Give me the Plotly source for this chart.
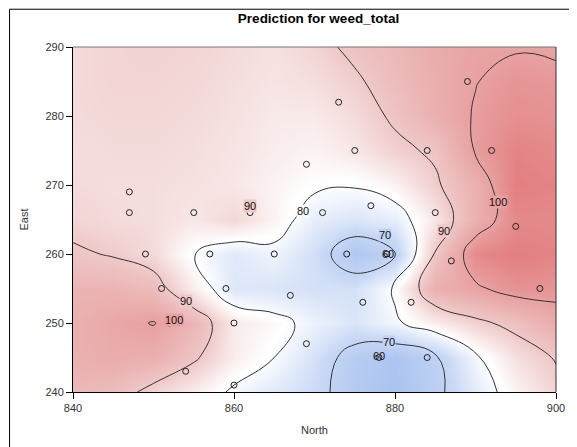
import plotly.graph_objects as go

# Grid of predicted weed_total values
north = [840, 845, 850, 855, 860, 865, 870, 875, 880, 885, 890, 895, 900]
east = [240, 245, 250, 255, 260, 265, 270, 275, 280, 285, 290]
z_240 = [94, 93, 88, 84, 79, 76, 72.5, 66, 63, 68, 76.5, 83, 88]
z_245 = [96, 97, 96, 91, 84, 80, 74, 67, 64, 69, 79, 86, 90.5]
z_250 = [96, 98, 100.3, 94.5, 84.5, 82, 78, 75, 79, 84, 88.5, 92, 97]
z_255 = [95, 95, 93, 84, 75.5, 75, 74, 74, 81, 96, 99, 102.5, 102]
z_260 = [91, 89.5, 87, 80.2, 76, 78.5, 73.5, 65, 69, 90.5, 104, 106, 105]
z_265 = [88, 87, 86.5, 85, 87.5, 83, 77, 75, 77, 85, 96, 104, 104]
z_270 = [87, 86.5, 86.5, 86, 85, 83, 81, 80.5, 83, 89, 96, 106, 105]
z_275 = [86.5, 87, 87, 86.5, 85.5, 84, 83, 85, 88.5, 91, 100.5, 105, 104]
z_280 = [87, 87.5, 87.5, 87, 86, 84.5, 84.5, 87, 91, 96, 100.5, 103, 102.5]
z_285 = [87, 88, 88, 87.5, 86.5, 85.5, 86.5, 89, 93, 96.5, 99.8, 102, 101.5]
z_290 = [87, 88, 88.5, 88, 87, 86, 88, 91.5, 94, 97, 99, 99.5, 99]
z_grid = [z_240, z_245, z_250, z_255, z_260, z_265, z_270, z_275, z_280, z_285, z_290]

# Observed sample locations
obs_north = [847, 847, 855, 862, 889, 873, 875, 884, 892, 869, 871, 877, 885, 895,
             849, 857, 865, 851, 859, 867, 852, 860, 854, 860, 874, 879, 887, 898,
             876, 882, 869, 878, 884]
obs_east = [269, 266, 266, 266, 285, 282, 275, 275, 275, 273, 266, 267, 266, 264,
            260, 260, 260, 255, 255, 254, 250, 250, 243, 241, 260, 260, 259, 255,
            253, 253, 247, 245, 245]

# Contour level labels as placed in the reference
label_text = ["90", "80", "70", "60", "90", "100", "90", "100", "70", "60"]
label_north = [862, 868.6, 878.7, 879.1, 886.1, 892.8, 854, 852.6, 879.3, 878]
label_east = [267, 266.2, 262.8, 260, 263.4, 267.5, 253.2, 250.4, 247.3, 245.2]

ZMIN, ZMAX = 60, 108
stops = [
    (0.0, (160, 188, 238)),
    (0.25, (200, 216, 245)),
    (0.4375, (255, 255, 255)),
    (0.625, (239, 200, 200)),
    (0.833, (232, 160, 160)),
    (1.0, (225, 115, 118)),
]
colorscale = [[p, "rgb(%d,%d,%d)" % c] for p, c in stops]


def color_at(v):
    t = (v - ZMIN) / (ZMAX - ZMIN)
    t = min(max(t, 0), 1)
    for (p0, c0), (p1, c1) in zip(stops[:-1], stops[1:]):
        if p0 <= t <= p1:
            f = (t - p0) / (p1 - p0)
            c = [round(a + (b - a) * f) for a, b in zip(c0, c1)]
            return "rgb(%d,%d,%d)" % tuple(c)
    return "rgb(%d,%d,%d)" % stops[-1][1]


fig = go.Figure()
fig.add_trace(go.Contour(
    x=north, y=east, z=z_grid,
    colorscale=colorscale, zmin=ZMIN, zmax=ZMAX,
    showscale=False,
    contours=dict(coloring="heatmap", start=70, end=100, size=10, showlabels=False),
    line=dict(color="#333", width=1, smoothing=1.3),
    hoverinfo="skip",
))
fig.add_trace(go.Scatter(
    x=obs_north, y=obs_east, mode="markers",
    marker=dict(symbol="circle-open", size=6, color="#222", line=dict(width=1)),
    showlegend=False, hoverinfo="skip",
))

annotations = []
for t, lx, ly in zip(label_text, label_north, label_east):
    lvl = float(t)
    annotations.append(dict(
        x=lx, y=ly, xref="x", yref="y", text=t, showarrow=False, borderpad=0,
        bgcolor=color_at(lvl) if lvl >= 70 else "rgba(0,0,0,0)",
        font=dict(family="Liberation Sans, Arial", size=11, color="#111111")))

axis_font = dict(family="Liberation Sans, Arial", size=11, color="#333")
# page body adds an 8px offset, so the figure is sized to fill the rest of the window
fig.update_layout(
    width=569, height=439,
    margin=dict(l=65, r=13, t=39, b=53),
    paper_bgcolor="white", plot_bgcolor="white",
    title=dict(text="<b>Prediction for weed_total</b>", x=(310.5 / 569), xanchor="center",
               y=1 - 10 / 439, yanchor="middle",
               font=dict(family="Liberation Sans, Arial", size=13.5, color="black")),
    xaxis=dict(range=[840, 900], tickvals=[840, 860, 880, 900], ticks="outside",
               ticklen=6, tickcolor="black", showgrid=False, zeroline=False,
               showline=True, linecolor="black", linewidth=1, mirror=False,
               tickfont=axis_font,
               title=dict(text="North", font=axis_font, standoff=13)),
    yaxis=dict(range=[240, 290], tickvals=[240, 250, 260, 270, 280, 290], ticks="outside",
               ticklen=6, tickcolor="black", showgrid=False, zeroline=False,
               showline=True, linecolor="black", linewidth=1, mirror=False,
               tickfont=axis_font,
               title=dict(text="East", font=axis_font, standoff=14)),
    annotations=annotations,
    shapes=[
        dict(type="line", xref="paper", yref="paper", x0=0, x1=1, y0=1, y1=1,
             line=dict(color="#777", width=1)),
        dict(type="line", xref="paper", yref="paper", x0=1, x1=1, y0=0, y1=1,
             line=dict(color="#333", width=1)),
        dict(type="line", xref="paper", yref="paper",
             x0=(0.5 - 65) / 491, x1=(0.5 - 65) / 491, y0=(386 - 1) / 347, y1=(386 - 460) / 347,
             line=dict(color="black", width=1)),
        dict(type="line", xref="paper", yref="paper",
             x0=(0.5 - 65) / 491, x1=(600 - 65) / 491, y0=(386 - 1) / 347, y1=(386 - 1) / 347,
             line=dict(color="black", width=1)),
    ],
)
fig.write_html("out.html")
